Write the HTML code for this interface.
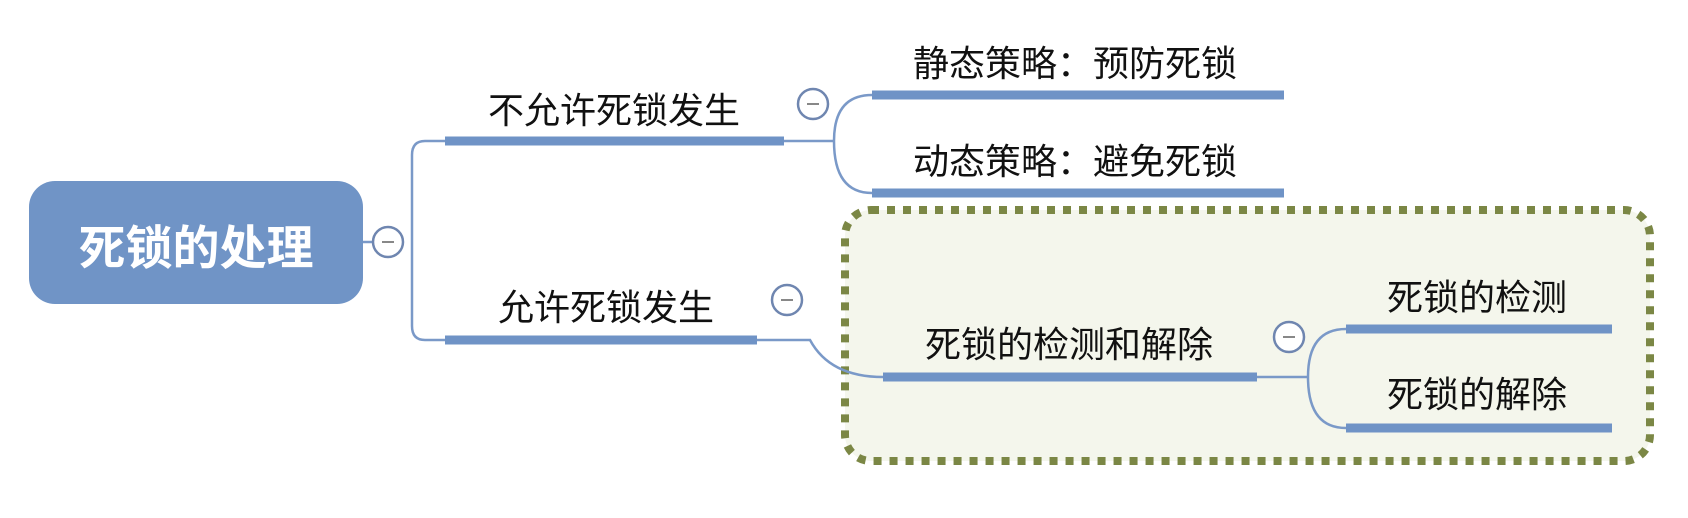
<!DOCTYPE html>
<html><head><meta charset="utf-8"><style>
html,body{margin:0;padding:0;background:#fff;}
body{width:1688px;height:518px;position:relative;overflow:hidden;font-family:"Liberation Sans","Noto Sans CJK SC",sans-serif;}
.t{position:absolute;font-size:36px;color:#111;white-space:nowrap;transform:translate(-50%,-50%);}
</style></head><body>
<svg width="1688" height="518" style="position:absolute;left:0;top:0">
<rect x="845" y="210" width="805" height="251" rx="26" fill="#f4f6ec" stroke="#7b8745" stroke-width="8" stroke-dasharray="8 8"/>
<rect x="29" y="181" width="334" height="123" rx="26" fill="#7094c6"/>
<g fill="none" stroke="#7a99c8" stroke-width="2.5">
<path d="M363 242 H376"/>
<path d="M445 141 H425 Q412 141 412 155 V326 Q412 340 425 340 H445"/>
<path d="M784 141 H834"/>
<path d="M872 95 Q834 95 834 141 Q834 193 872 193"/>
<path d="M757 340 H810 Q830 377 883 377"/>
<path d="M1257 377 H1308"/>
<path d="M1346 329 Q1308 329 1308 377 Q1308 428 1346 428"/>
</g>
<g stroke="#6f93c6" stroke-width="9">
<path d="M445 141 H784"/>
<path d="M872 95 H1284"/>
<path d="M872 193 H1284"/>
<path d="M445 340 H757"/>
<path d="M883 377 H1257"/>
<path d="M1346 329 H1612"/>
<path d="M1346 428 H1612"/>
</g>
<g fill="#fff" stroke="#6f86b0" stroke-width="2.5">
<circle cx="388" cy="242" r="15"/>
<circle cx="813" cy="104" r="15"/>
<circle cx="787" cy="300" r="15"/>
<circle cx="1289" cy="337" r="15"/>
</g>
<g stroke="#888" stroke-width="2">
<path d="M382 242 H394"/><path d="M807 104 H819"/><path d="M781 300 H793"/><path d="M1283 337 H1295"/>
</g>
</svg>
<div class="t" style="left:196px;top:244px;color:#fff;font-weight:bold;font-size:47px">死锁的处理</div>
<div class="t" style="left:614px;top:108px">不允许死锁发生</div>
<div class="t" style="left:1075px;top:61px">静态策略：预防死锁</div>
<div class="t" style="left:1075px;top:159px">动态策略：避免死锁</div>
<div class="t" style="left:606px;top:305px">允许死锁发生</div>
<div class="t" style="left:1069px;top:342px">死锁的检测和解除</div>
<div class="t" style="left:1477px;top:295px">死锁的检测</div>
<div class="t" style="left:1477px;top:392px">死锁的解除</div>
</body></html>
